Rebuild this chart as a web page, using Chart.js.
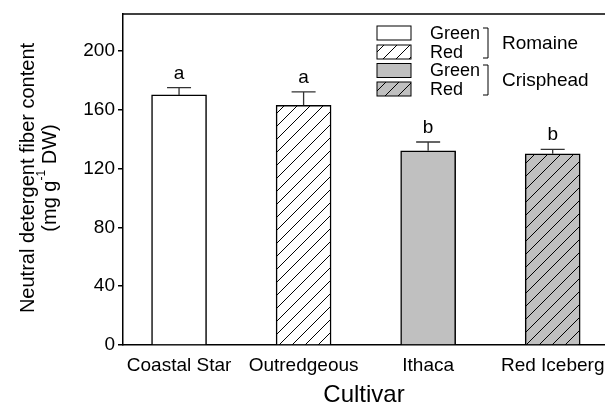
<!DOCTYPE html>
<html>
<head>
  <meta charset="utf-8">
  <title>Neutral detergent fiber content</title>
  <script src="https://cdn.jsdelivr.net/npm/chart.js"></script>
  <style>
    body { margin: 0; background: #fff; }
    #wrap { width: 605px; height: 408px; }
  </style>
</head>
<body>
<div id="wrap"><canvas id="ndf-chart"></canvas></div>

<script>
  // data
  var cultivars = ['Coastal Star', 'Outredgeous', 'Ithaca', 'Red Iceberg'];
  var ndfValues = [170, 163, 132, 130];
  var ndfErrors = [5, 9, 6, 3];
  var letters = ['a', 'a', 'b', 'b'];
  var yTicks = [0, 40, 80, 120, 160, 200];
  var legendRows = ['Green', 'Red', 'Green', 'Red'];
  var legendGroups = ['Romaine', 'Crisphead'];

  var FONT = '"Liberation Sans", Arial, sans-serif';
  var GRAY = '#c0c0c0';

  // diagonal "/" hatch on a given background
  function hatch(bg) {
    var s = 13;
    var c = document.createElement('canvas');
    c.width = s; c.height = s;
    var g = c.getContext('2d');
    g.fillStyle = bg;
    g.fillRect(0, 0, s, s);
    g.strokeStyle = '#000';
    g.lineWidth = 1;
    g.beginPath();
    g.moveTo(-1, s + 1); g.lineTo(s + 1, -1);
    g.moveTo(-1, 1); g.lineTo(1, -1);
    g.moveTo(s - 1, s + 1); g.lineTo(s + 1, s - 1);
    g.stroke();
    return g.createPattern(c, 'repeat');
  }

  var fills = ['#ffffff', hatch('#ffffff'), GRAY, hatch(GRAY)];

  var decor = {
    id: 'decor',
    afterDatasetsDraw: function (chart) {
      var c = chart.ctx, area = chart.chartArea, y = chart.scales.y;
      var meta = chart.getDatasetMeta(0);
      c.save();
      // top frame line
      c.strokeStyle = '#000';
      c.lineWidth = 1.5;
      c.beginPath();
      c.moveTo(area.left, area.top);
      c.lineTo(area.right, area.top);
      c.stroke();

      // error bars and letters
      meta.data.forEach(function (bar, i) {
        var top = y.getPixelForValue(ndfValues[i]);
        var cap = y.getPixelForValue(ndfValues[i] + ndfErrors[i]);
        c.strokeStyle = '#333';
        c.lineWidth = 1.3;
        c.beginPath();
        c.moveTo(bar.x, top);
        c.lineTo(bar.x, cap);
        c.moveTo(bar.x - 12, cap);
        c.lineTo(bar.x + 12, cap);
        c.stroke();
        c.fillStyle = '#000';
        c.font = '19px ' + FONT;
        c.textAlign = 'center';
        c.textBaseline = 'alphabetic';
        c.fillText(letters[i], bar.x, cap - 9);
      });
      c.restore();
    },
    afterDraw: function (chart) {
      var c = chart.ctx;
      c.save();
      // legend boxes
      var tops = [26, 45, 63.5, 82];
      tops.forEach(function (t, i) {
        c.fillStyle = fills[i];
        c.fillRect(377, t, 34, 14);
        c.strokeStyle = '#000';
        c.lineWidth = 1;
        c.strokeRect(377, t, 34, 14);
        c.fillStyle = '#000';
        c.font = '18px ' + FONT;
        c.textAlign = 'left';
        c.textBaseline = 'middle';
        c.fillText(legendRows[i], 430, t + 8);
      });
      // brackets
      var spans = [[28, 58], [65, 95]];
      spans.forEach(function (s, i) {
        c.strokeStyle = '#000';
        c.lineWidth = 1;
        c.beginPath();
        c.moveTo(483, s[0]);
        c.lineTo(488, s[0]);
        c.lineTo(488, s[1]);
        c.lineTo(483, s[1]);
        c.stroke();
        c.font = '19px ' + FONT;
        c.textBaseline = 'middle';
        c.fillText(legendGroups[i], 502, (s[0] + s[1]) / 2 + 1);
      });

      // y axis title, two lines with a superscript
      c.fillStyle = '#000';
      c.translate(28, 178);
      c.rotate(-Math.PI / 2);
      c.font = '20px ' + FONT;
      c.textAlign = 'center';
      c.textBaseline = 'middle';
      c.fillText('Neutral detergent fiber content', 0, 0);

      var parts = [['(mg g', 20, 0], ['-1', 12, -8], [' DW)', 20, 0]];
      var total = 0;
      parts.forEach(function (p) {
        c.font = p[1] + 'px ' + FONT;
        p.w = c.measureText(p[0]).width;
        total += p.w;
      });
      var x = -total / 2;
      c.textAlign = 'left';
      parts.forEach(function (p) {
        c.font = p[1] + 'px ' + FONT;
        c.fillText(p[0], x, 22 + p[2]);
        x += p.w;
      });
      c.restore();
    }
  };

  var ctx = document.getElementById('ndf-chart').getContext('2d');
  var chart = new Chart(ctx, {
    type: 'bar',
    data: {
      datasets: [{
        data: cultivars.map(function (c, i) { return { x: i + 1, y: ndfValues[i] }; }),
        backgroundColor: fills,
        borderColor: '#000',
        borderWidth: 1.5,
        barThickness: 55
      }]
    },
    options: {
      responsive: true,
      maintainAspectRatio: false,
      animation: false,
      layout: { padding: { left: 0, top: 14, right: 0, bottom: 0 } },
      plugins: { legend: { display: false }, tooltip: { enabled: false } },
      scales: {
        x: {
          type: 'linear',
          offset: false,
          min: 0.55,
          max: 4.42,
          afterBuildTicks: function (s) {
            s.ticks = cultivars.map(function (c, i) { return { value: i + 1 }; });
          },
          ticks: {
            callback: function (v) { return cultivars[v - 1]; },
            font: { family: FONT, size: 19 },
            color: '#000',
            padding: 9,
            maxRotation: 0,
            autoSkip: false
          },
          grid: { display: false, drawTicks: false, tickLength: 0 },
          border: { color: '#000', width: 1.5 },
          title: { display: true, text: 'Cultivar', color: '#000', font: { family: FONT, size: 24 }, padding: { top: 0, bottom: -2 } },
          afterFit: function (s) { s.height = 63; s.paddingLeft = 0; s.paddingRight = 0; }
        },
        y: {
          min: 0,
          max: 225,
          afterBuildTicks: function (s) {
            s.ticks = yTicks.map(function (v) { return { value: v }; });
          },
          ticks: { font: { family: FONT, size: 19 }, color: '#000', padding: 3 },
          grid: { drawOnChartArea: false, tickLength: 5, color: '#000', lineWidth: 1.5 },
          border: { color: '#000', width: 1.5 },
          afterFit: function (s) { s.width = 123; s.paddingTop = 0; s.paddingBottom = 0; }
        }
      }
    },
    plugins: [decor]
  });
</script>
</body>
</html>
